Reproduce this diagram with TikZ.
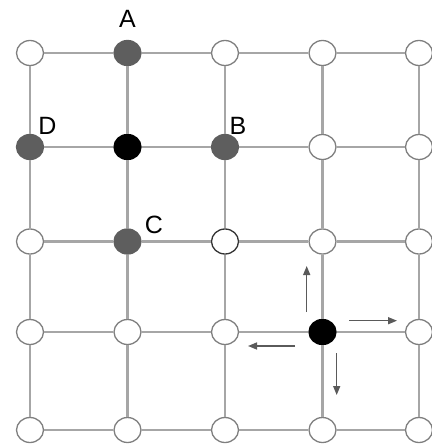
\documentclass[tikz,border=0pt]{standalone}
\usepackage{fontspec}
\setmainfont{Liberation Sans}
\usetikzlibrary{shapes.geometric,arrows.meta}
\definecolor{gridc}{HTML}{A6A6A6}
\definecolor{rimc}{HTML}{7F7F7F}
\definecolor{grayfill}{HTML}{5E5E5E}
\definecolor{arrc}{HTML}{5A5A5A}
\tikzset{
  site/.style={ellipse, minimum width=27pt, minimum height=25pt, inner sep=0pt, draw=rimc, line width=1.3pt, fill=white},
  greysite/.style={site, fill=grayfill, draw=grayfill},
  blacksite/.style={site, fill=black, draw=black},
  darkrim/.style={site, draw=black!80},
  gridline/.style={draw=gridc, line width=2.2pt},
  move/.style={draw=arrc, line width=1.5pt, -{Triangle[length=9pt,width=7pt]}},
  lab/.style={font=\fontsize{25}{25}\selectfont, inner sep=0pt}
}
\begin{document}
\begin{tikzpicture}[x=1pt,y=-1pt]
\useasboundingbox (0,0) rectangle (431,444);
\def\xa{30}\def\xb{127.5}\def\xc{225}\def\xd{322.5}\def\xe{419}
\def\ya{53}\def\yb{147}\def\yc{241.5}\def\yd{332}\def\ye{430}
% row 1
\node[site] (n11) at (\xa,\ya) {};
\node[greysite] (n21) at (\xb,\ya) {};
\node[site] (n31) at (\xc,\ya) {};
\node[site] (n41) at (\xd,\ya) {};
\node[site] (n51) at (\xe,\ya) {};
% row 2
\node[greysite] (n12) at (\xa,\yb) {};
\node[blacksite] (n22) at (\xb,\yb) {};
\node[greysite] (n32) at (\xc,\yb) {};
\node[site] (n42) at (\xd,\yb) {};
\node[site] (n52) at (\xe,\yb) {};
% row 3
\node[site] (n13) at (\xa,\yc) {};
\node[greysite] (n23) at (\xb,\yc) {};
\node[darkrim] (n33) at (\xc,\yc) {};
\node[site] (n43) at (\xd,\yc) {};
\node[site] (n53) at (\xe,\yc) {};
% row 4
\node[site] (n14) at (\xa,\yd) {};
\node[site] (n24) at (\xb,\yd) {};
\node[site] (n34) at (\xc,\yd) {};
\node[blacksite] (n44) at (\xd,\yd) {};
\node[site] (n54) at (\xe,\yd) {};
% row 5
\node[site] (n15) at (\xa,\ye) {};
\node[site] (n25) at (\xb,\ye) {};
\node[site] (n35) at (\xc,\ye) {};
\node[site] (n45) at (\xd,\ye) {};
\node[site] (n55) at (\xe,\ye) {};
% grid lines
\foreach \r in {1,...,5}{
  \foreach \c/\d in {1/2,2/3,3/4,4/5}{
    \draw[gridline] (n\c\r) -- (n\d\r);
    \draw[gridline] (n\r\c) -- (n\r\d);
  }
}
% labels
\node[lab] (la) at (127.5,19) {A};
\node[lab] (ld) at (47.5,126) {D};
\node[lab] (lb) at (238,126) {B};
\node[lab] (lc) at (154,225) {C};
% move arrows
\coordinate (u0) at (306.7,312);
\coordinate (u1) at (306.7,266);
\coordinate (r0) at (349,320.7);
\coordinate (r1) at (397,320.7);
\coordinate (l0) at (295,346);
\coordinate (l1) at (248,346);
\coordinate (d0) at (336.7,353);
\coordinate (d1) at (336.7,395);
\draw[move] (u0) -- (u1);
\draw[move] (r0) -- (r1);
\draw[move] (l0) -- (l1);
\draw[move] (d0) -- (d1);
\end{tikzpicture}
\end{document}
